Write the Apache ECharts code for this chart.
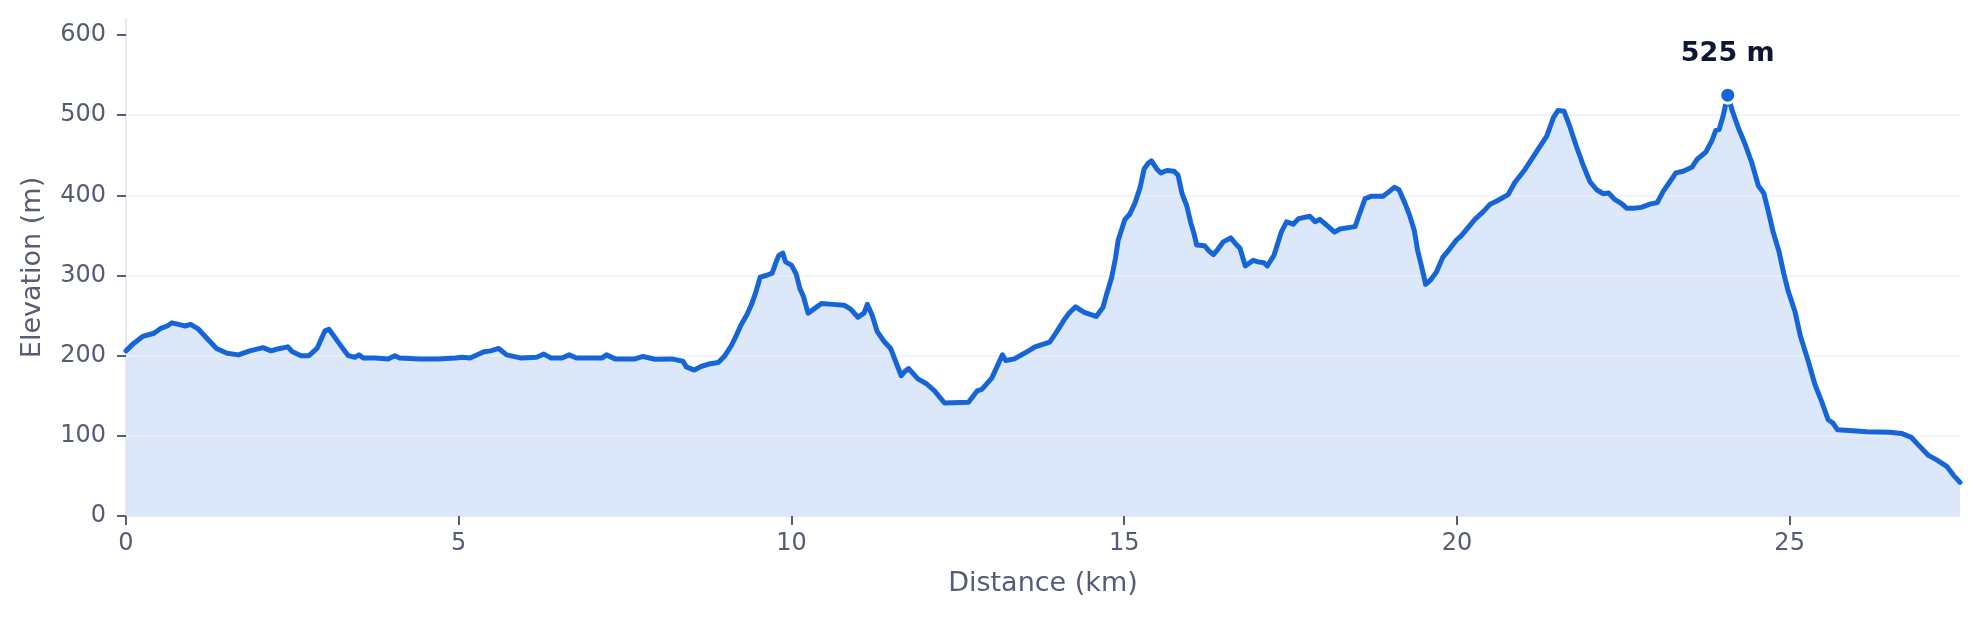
<!DOCTYPE html>
<html>
    <head>
        <meta charset="utf-8">
        <title>Elevation profile</title>
        <style>
            html, body { margin: 0; padding: 0; background: #ffffff; }
            #chart1 { width: 1979px; height: 619px; }
        </style>
    </head>
    <body>
        <!-- chart container -->
        <div id="chart1"></div>
    </body>
    <script src="https://cdn.jsdelivr.net/npm/echarts@6.0.0/dist/echarts.min.js"></script>
    <script type="text/javascript">
        // distance along the route (km)
        var distKm = [
            0.00, 0.11, 0.25, 0.42, 0.52, 0.62, 0.69, 0.79, 0.89, 0.97,
            1.09, 1.19, 1.36, 1.52, 1.69, 1.86, 2.06, 2.18, 2.26, 2.43,
            2.50, 2.63, 2.75, 2.87, 2.99, 3.05, 3.12, 3.24, 3.34, 3.44,
            3.50, 3.57, 3.74, 3.94, 4.04, 4.11, 4.41, 4.68, 4.95, 5.05,
            5.17, 5.38, 5.48, 5.60, 5.72, 5.94, 6.17, 6.28, 6.39, 6.55,
            6.66, 6.77, 7.15, 7.22, 7.35, 7.65, 7.77, 7.95, 8.20, 8.37,
            8.42, 8.54, 8.64, 8.78, 8.90, 9.00, 9.10, 9.17, 9.24, 9.33,
            9.40, 9.46, 9.53, 9.62, 9.71, 9.77, 9.81, 9.87, 9.91, 10.00,
            10.07, 10.13, 10.18, 10.25, 10.35, 10.45, 10.62, 10.79, 10.89, 11.00,
            11.09, 11.14, 11.21, 11.29, 11.39, 11.49, 11.56, 11.65, 11.70, 11.76,
            11.90, 12.03, 12.15, 12.23, 12.30, 12.66, 12.79, 12.86, 13.01, 13.17,
            13.22, 13.35, 13.50, 13.66, 13.88, 13.98, 14.10, 14.17, 14.27, 14.40,
            14.58, 14.68, 14.74, 14.81, 14.87, 14.91, 15.01, 15.08, 15.16, 15.24,
            15.30, 15.36, 15.41, 15.49, 15.55, 15.64, 15.75, 15.81, 15.87, 15.94,
            16.00, 16.05, 16.09, 16.21, 16.27, 16.34, 16.41, 16.49, 16.60, 16.67,
            16.74, 16.82, 16.94, 17.01, 17.10, 17.15, 17.25, 17.36, 17.44, 17.54,
            17.62, 17.79, 17.87, 17.94, 18.04, 18.16, 18.24, 18.47, 18.52, 18.62,
            18.72, 18.89, 18.97, 19.06, 19.13, 19.22, 19.29, 19.36, 19.41, 19.47,
            19.53, 19.61, 19.69, 19.79, 19.89, 19.99, 20.07, 20.17, 20.27, 20.40,
            20.50, 20.60, 20.77, 20.87, 21.02, 21.17, 21.35, 21.45, 21.52, 21.61,
            21.70, 21.80, 21.91, 22.00, 22.10, 22.20, 22.28, 22.37, 22.47, 22.55,
            22.65, 22.77, 22.90, 23.01, 23.10, 23.20, 23.29, 23.40, 23.53, 23.61,
            23.74, 23.83, 23.89, 23.94, 24.00, 24.07, 24.14, 24.23, 24.33, 24.43,
            24.53, 24.61, 24.68, 24.75, 24.84, 24.91, 24.98, 25.08, 25.16, 25.28,
            25.38, 25.48, 25.58, 25.65, 25.72, 26.01, 26.16, 26.51, 26.68, 26.83,
            26.93, 27.08, 27.21, 27.36, 27.46, 27.56
        ];

        // elevation at each point (m)
        var elevM = [
            206, 215, 224, 228, 234, 237, 241, 239, 237, 239,
            233, 224, 209, 203, 201, 206, 210, 206, 208, 211,
            205, 200, 200, 209, 231, 233, 225, 211, 200, 198,
            201, 197, 197, 196, 200, 197, 196, 196, 197, 198,
            197, 205, 206, 209, 201, 197, 198, 202, 197, 197,
            201, 197, 197, 201, 196, 196, 199, 195.5, 196, 193,
            186, 182, 186.5, 190, 191.5, 200, 213, 225, 238, 251,
            264, 278, 298, 300, 303, 317, 325, 328, 317, 313,
            302, 283, 274, 253, 259, 265, 264, 263, 258, 248,
            253, 264, 251, 230, 218, 209, 194, 175, 180, 184,
            171, 165, 156, 148, 141, 142, 156, 158, 172, 201,
            194, 196, 203, 211, 217, 229, 245, 253, 261, 254,
            249, 260, 278, 297, 322, 344, 370, 376, 390, 410,
            433, 440, 443, 433, 428, 431, 430, 425, 402, 387,
            366, 352, 338, 337, 331, 326, 333, 342, 347, 340,
            334, 312, 319, 317, 316, 312, 325, 354, 367, 364,
            371, 374, 367, 370, 363, 354, 358, 361, 373, 396,
            399, 399, 404, 410, 407, 390, 375, 356, 331, 311,
            289, 295, 304, 323, 333, 344, 350, 360, 370, 380,
            389, 393, 401, 416, 432, 451, 474, 497, 506, 505,
            485, 460, 435, 417, 407, 402, 403, 395, 390, 384,
            384, 385, 389, 391, 405, 417, 428, 430, 435, 445,
            454, 468, 481, 482, 499, 525, 505, 484, 464, 441,
            412, 403, 380, 355, 330, 303, 280, 255, 225, 193,
            164, 143, 120, 116, 107.5, 106, 105, 104.5, 103, 98,
            89, 76, 70, 62, 51, 42
        ];

        // axis ticks
        var xTicks = [0, 5, 10, 15, 20, 25];
        var yTicks = [0, 100, 200, 300, 400, 500, 600];

        var profile = distKm.map(function (d, i) { return [d, elevM[i]]; });

        // highest point gets a marker
        var peakIdx = 0;
        for (var i = 1; i < elevM.length; i++) {
            if (elevM[i] > elevM[peakIdx]) peakIdx = i;
        }

        var textColor = '#565c77';
        var lineColor = '#1565d8';
        var font = 'DejaVu Sans';

        var myChart1 = echarts.init(document.getElementById('chart1'));
        myChart1.setOption({
            animation: false,
            backgroundColor: '#ffffff',
            textStyle: { fontFamily: font },
            grid: { left: 126, right: 19, top: 19, bottom: 103 },
            xAxis: {
                type: 'value',
                min: 0,
                max: distKm[distKm.length - 1],
                interval: 5,
                z: 3,
                name: 'Distance (km)',
                nameLocation: 'middle',
                nameGap: 54,
                nameTextStyle: { color: textColor, fontSize: 27, fontFamily: font },
                axisLine: { show: true, lineStyle: { color: '#e0e3ec', width: 1.5 } },
                axisTick: { show: true, length: 9, customValues: xTicks, lineStyle: { color: textColor, width: 2 } },
                axisLabel: { customValues: xTicks, color: textColor, fontSize: 24, margin: 16, fontFamily: font },
                splitLine: { show: false }
            },
            yAxis: {
                type: 'value',
                min: 0,
                max: 620,
                interval: 100,
                z: 3,
                name: 'Elevation (m)',
                nameLocation: 'middle',
                nameGap: 80,
                nameTextStyle: { color: textColor, fontSize: 27, fontFamily: font },
                axisLine: { show: true, lineStyle: { color: '#e0e3ec', width: 1.5 } },
                axisTick: { show: true, length: 9, customValues: yTicks, lineStyle: { color: textColor, width: 2 } },
                axisLabel: { customValues: yTicks, color: textColor, fontSize: 24, margin: 20, fontFamily: font },
                splitLine: { show: true, showMinLine: false, showMaxLine: false, lineStyle: { color: '#eef0f5', width: 1.5 } }
            },
            series: [
                {
                    // fill under the profile, kept below the grid lines
                    name: 'fill',
                    type: 'line',
                    z: 1,
                    data: profile,
                    showSymbol: false,
                    silent: true,
                    lineStyle: { width: 0 },
                    areaStyle: { color: 'rgba(21,101,216,0.15)', opacity: 1, origin: 'start' }
                },
                {
                    name: 'Elevation',
                    type: 'line',
                    z: 5,
                    data: profile,
                    showSymbol: false,
                    lineStyle: { color: lineColor, width: 5, join: 'round', cap: 'round' }
                },
                {
                    name: 'Peak',
                    type: 'scatter',
                    z: 6,
                    data: [[distKm[peakIdx], elevM[peakIdx]]],
                    symbolSize: 16,
                    itemStyle: { color: lineColor, opacity: 1, borderColor: '#ffffff', borderWidth: 3 },
                    label: {
                        show: true,
                        position: 'top',
                        distance: 18,
                        formatter: function (p) { return p.value[1] + ' m'; },
                        color: '#0f1633',
                        fontWeight: 'bold',
                        fontSize: 27,
                        fontFamily: font
                    }
                }
            ]
        });
    </script>
</html>
